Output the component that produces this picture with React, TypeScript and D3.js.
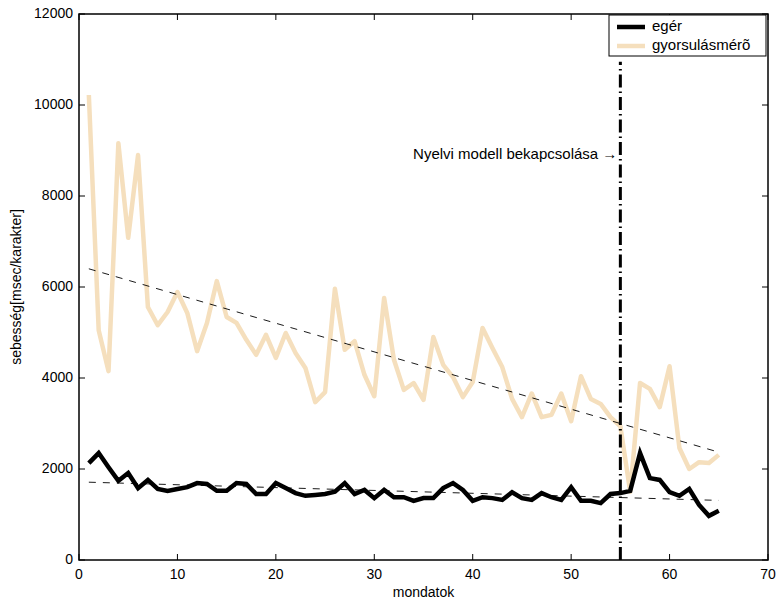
import React from "react";
import * as d3 from "d3";

// sentence index 1..65
const sentences = d3.range(1, 66);

const mouse = [
  2130, 2350, 2040, 1740, 1910, 1580, 1760, 1560, 1520, 1560,
  1600, 1690, 1670, 1520, 1520, 1690, 1670, 1450, 1450, 1690,
  1580, 1470, 1410, 1430, 1450, 1500, 1690, 1450, 1540, 1360,
  1540, 1380, 1380, 1300, 1360, 1360, 1580, 1690, 1540, 1300,
  1380, 1360, 1320, 1490, 1360, 1320, 1470, 1380, 1320, 1600,
  1300, 1300, 1250, 1450, 1470, 1520, 2350, 1800, 1760, 1490,
  1410, 1560, 1210, 970, 1080,
];

const accel = [
  10220, 5050, 4150, 9160, 7080, 8900, 5560, 5160, 5450, 5890,
  5430, 4590, 5210, 6130, 5340, 5210, 4840, 4510, 4950, 4440,
  4990, 4550, 4220, 3470, 3690, 5960, 4620, 4810, 4070, 3600,
  5760, 4400, 3740, 3890, 3520, 4900, 4290, 4020, 3580, 3910,
  5100, 4660, 4240, 3540, 3140, 3660, 3140, 3190, 3660, 3050,
  4040, 3540, 3430, 3140, 2940, 1500, 3890, 3760, 3360, 4260,
  2460, 2000, 2150, 2130, 2310,
];

// fitted trend lines: [x, y] end points
const mouseTrend = [[1, 1710], [65, 1310]];
const accelTrend = [[1, 6400], [65, 2370]];

const switchAt = 55;
const switchTop = 10950;

const xTicks = [0, 10, 20, 30, 40, 50, 60, 70];
const yTicks = [0, 2000, 4000, 6000, 8000, 10000, 12000];

const legendItems = [
  { name: "egér", color: "#000000" },
  { name: "gyorsulásmérõ", color: "#f5dfbd" },
];

const W = 781;
const H = 601;
const m = { left: 79, right: 13, top: 14, bottom: 41 };

export default function App() {
  const x = d3.scaleLinear().domain([0, 70]).range([m.left, W - m.right]);
  const y = d3.scaleLinear().domain([0, 12000]).range([H - m.bottom, m.top]);

  const line = d3
    .line<number>()
    .x((_, i) => x(sentences[i]))
    .y((d) => y(d));
  const seg = d3
    .line<number[]>()
    .x((d) => x(d[0]))
    .y((d) => y(d[1]));

  const font = "'Liberation Sans', Arial, sans-serif";
  const x0 = x(0), x1 = x(70), y0 = y(0), y1 = y(12000);

  return (
    <svg
      width={W}
      height={H}
      style={{ position: "absolute", left: 0, top: 0, background: "#fff" }}
      fontFamily={font}
      fontSize={14}
    >
      {/* accelerometer */}
      <path d={line(accel)!} fill="none" stroke={legendItems[1].color} strokeWidth={4.5} strokeLinejoin="round" />
      {/* mouse */}
      <path d={line(mouse)!} fill="none" stroke={legendItems[0].color} strokeWidth={4.5} strokeLinejoin="miter" />
      {/* trend lines */}
      <path d={seg(accelTrend)!} stroke="#000" strokeWidth={0.9} strokeDasharray="7,7" />
      <path d={seg(mouseTrend)!} stroke="#000" strokeWidth={0.9} strokeDasharray="7,7" />

      {/* language model switch */}
      <line
        x1={x(switchAt)}
        x2={x(switchAt)}
        y1={y0}
        y2={y(switchTop)}
        stroke="#000"
        strokeWidth={3}
        strokeDasharray="13,4,1.5,4"
      />
      <text x={x(switchAt) - 3} y={y(8900)} textAnchor="end" dominantBaseline="middle" fontSize={15}>
        Nyelvi modell bekapcsolása →
      </text>

      {/* axes box */}
      <rect x={x0} y={y1} width={x1 - x0} height={y0 - y1} fill="none" stroke="#000" strokeWidth={1.5} />
      {xTicks.map((t) => (
        <g key={"x" + t}>
          <line x1={x(t)} x2={x(t)} y1={y0} y2={y0 - 6} stroke="#000" />
          <line x1={x(t)} x2={x(t)} y1={y1} y2={y1 + 6} stroke="#000" />
          <text x={x(t)} y={y0 + 19} textAnchor="middle">{t}</text>
        </g>
      ))}
      {yTicks.map((t) => (
        <g key={"y" + t}>
          <line x1={x0} x2={x0 + 6} y1={y(t)} y2={y(t)} stroke="#000" />
          <line x1={x1} x2={x1 - 6} y1={y(t)} y2={y(t)} stroke="#000" />
          <text x={x0 - 6} y={y(t)} textAnchor="end" dominantBaseline="middle">{t}</text>
        </g>
      ))}
      <text x={(x0 + x1) / 2} y={H - 4} textAnchor="middle">mondatok</text>
      <text
        transform={`translate(17,${(y0 + y1) / 2}) rotate(-90)`}
        textAnchor="middle"
        dominantBaseline="middle"
      >
        sebesség[msec/karakter]
      </text>

      {/* legend */}
      <g transform="translate(609,15)">
        <rect width={157} height={41} fill="#fff" stroke="#000" strokeWidth={1} />
        {legendItems.map((d, i) => (
          <g key={d.name} transform={`translate(0,${12 + i * 19})`}>
            <line x1={8} x2={36} y1={0} y2={0} stroke={d.color} strokeWidth={4.5} />
            <text x={43} y={0} dominantBaseline="middle" fontSize={15}>{d.name}</text>
          </g>
        ))}
      </g>
    </svg>
  );
}
